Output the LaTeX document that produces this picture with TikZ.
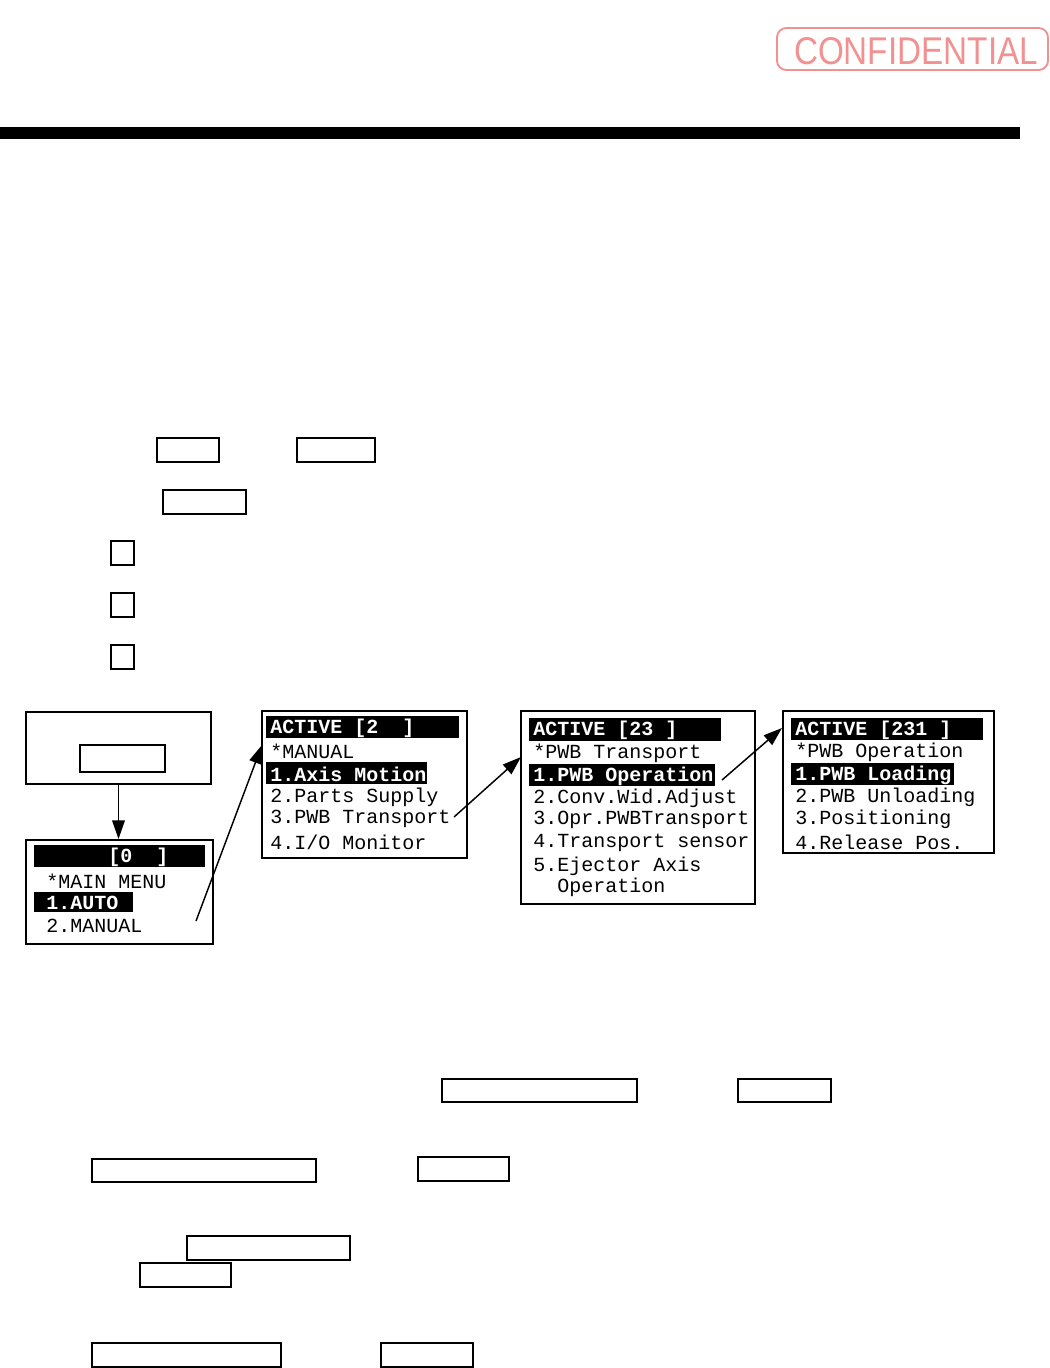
\documentclass[tikz,border=0pt]{standalone}
\usepackage{fontspec}
\setmainfont{Liberation Sans}
\newfontfamily\lcdfamily{Liberation Mono}
\usetikzlibrary{arrows.meta, fit, calc}

\newcommand{\lcdtext}{\lcdfamily\fontsize{15pt}{18pt}\selectfont}
\definecolor{stamp}{RGB}{242,145,145}

\begin{document}
\begin{tikzpicture}[x=0.75pt, y=-0.75pt,
  screen/.style={draw, line width=1.5pt, inner sep=0pt, fit={#1}},
  keycap/.style={draw, line width=1.1pt, inner sep=0pt, fit={#1}},
  lcd/.style={font=\lcdtext, anchor=west, inner sep=0pt},
  hilite/.style={lcd, text=white, font=\lcdtext\bfseries},
  link/.style={-{Triangle[length=14pt, width=9.5pt]}, line width=1.1pt}]
  \useasboundingbox (0,0) rectangle (1050,1368);

  % stamp and header rule
  \node (stampbox) [draw=stamp, line width=1.4pt, rounded corners=7pt, inner sep=0pt,
    fit={(777,28) (1048,70)}] {};
  \node (stamptxt) [text=stamp, font=\fontsize{29pt}{30pt}\selectfont, inner sep=0pt]
    at (916,51) {\scalebox{0.86}[1]{CONFIDENTIAL}};
  \fill (0,127) rectangle (1020,139);

  % key boxes in the text
  \node (keyA) [keycap={(157,438) (219,462)}] {};
  \node (keyB) [keycap={(297,438) (375,462)}] {};
  \node (keyC) [keycap={(163,490) (246,514)}] {};
  \node (sqA) [keycap={(111,541) (134,565)}] {};
  \node (sqB) [keycap={(111,593) (134,617)}] {};
  \node (sqC) [keycap={(111,645) (134,669)}] {};

  % start screen
  \node (scrA) [screen={(26,712) (211,784)}] {};
  \node (keyD) [keycap={(80,745) (165,772)}] {};

  % main menu
  \node (scrB) [screen={(26,840) (213,944)}] {};
  \fill (34,845) rectangle (205,867);
  \node (b0) [hilite] at (108,857) {[0~~]};
  \node (b1) [lcd] at (46,881) {*MAIN~MENU};
  \fill (34,892) rectangle (133,912);
  \node (b2) [hilite] at (46,903) {1.AUTO};
  \node (b3) [lcd] at (46,926) {2.MANUAL};

  % manual menu
  \node (scrC) [screen={(262,711) (467,858)}] {};
  \fill (266,716) rectangle (459,738);
  \node (c0) [hilite] at (270,728) {ACTIVE~[2~~]};
  \node (c1) [lcd] at (270,751) {*MANUAL};
  \fill (266,762) rectangle (427,784);
  \node (c2) [hilite] at (270,774) {1.Axis~Motion};
  \node (c3) [lcd] at (270,797) {2.Parts~Supply};
  \node (c4) [lcd] at (270,819) {3.PWB~Transport};
  \node (c5) [lcd] at (270,842) {4.I/O~Monitor};

  % PWB transport menu
  \node (scrD) [screen={(521,711) (755,904)}] {};
  \fill (529,718) rectangle (721,741);
  \node (d0) [hilite] at (533,730) {ACTIVE~[23~]};
  \node (d1) [lcd] at (533,753) {*PWB~Transport};
  \fill (529,764) rectangle (715,786);
  \node (d2) [hilite] at (533,776) {1.PWB~Operation};
  \node (d3) [lcd] at (533,798) {2.Conv.Wid.Adjust};
  \node (d4) [lcd] at (533,820) {3.Opr.PWBTransport};
  \node (d5) [lcd] at (533,843) {4.Transport~sensor};
  \node (d6) [lcd] at (533,866) {5.Ejector~Axis};
  \node (d7) [lcd] at (533,887) {~~Operation};

  % PWB operation menu
  \node (scrE) [screen={(783,711) (994,853)}] {};
  \fill (791,718) rectangle (983,740);
  \node (e0) [hilite] at (795,730) {ACTIVE~[231~]};
  \node (e1) [lcd] at (795,752) {*PWB~Operation};
  \fill (791,763) rectangle (954,785);
  \node (e2) [hilite] at (795,775) {1.PWB~Loading};
  \node (e3) [lcd] at (795,797) {2.PWB~Unloading};
  \node (e4) [lcd] at (795,819) {3.Positioning};
  \node (e5) [lcd] at (795,842) {4.Release~Pos.};

  % connectors
  \coordinate (tailB) at (196,921);
  \coordinate (tipC) at (262,745);
  \coordinate (tailC) at (454,817);
  \coordinate (tipD) at (521,757);
  \coordinate (tailD) at (722,780);
  \coordinate (tipE) at (782,728);
  \draw[link] (scrA.south) -- (scrA.south |- scrB.north);
  \draw[link] (tailB) -- (tipC);
  \draw[link] (tailC) -- (tipD);
  \draw[link] (tailD) -- (tipE);

  % key boxes below
  \node (keyE) [keycap={(442,1079) (637,1102)}] {};
  \node (keyF) [keycap={(738,1079) (831,1102)}] {};
  \node (keyG) [keycap={(92,1159) (316,1182)}] {};
  \node (keyH) [keycap={(418,1157) (509,1181)}] {};
  \node (keyI) [keycap={(187,1236) (350,1260)}] {};
  \node (keyJ) [keycap={(140,1263) (231,1287)}] {};
  \node (keyK) [keycap={(92,1343) (281,1367)}] {};
  \node (keyL) [keycap={(381,1343) (473,1367)}] {};
\end{tikzpicture}
\end{document}
